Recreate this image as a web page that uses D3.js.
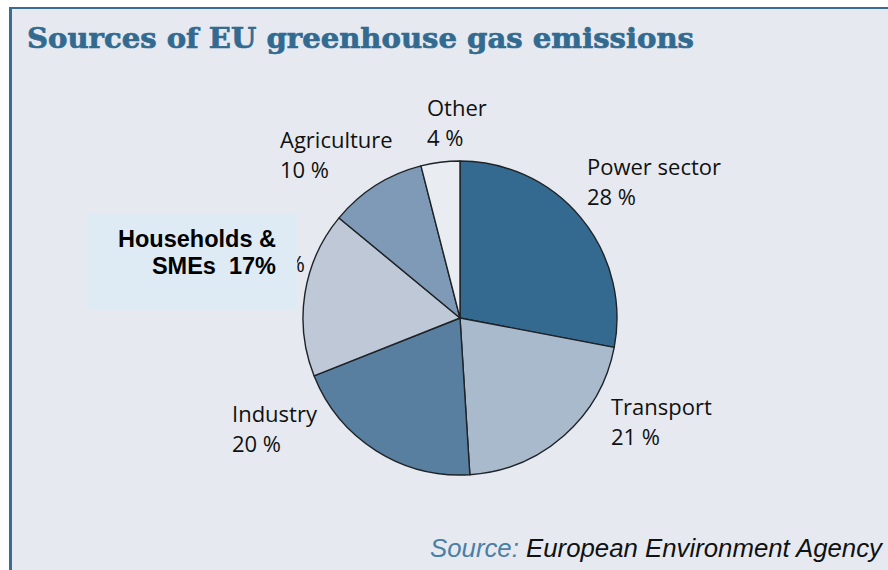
<!DOCTYPE html>
<html>
<head>
<meta charset="utf-8">
<script src="https://cdn.jsdelivr.net/npm/d3@7"></script>
<style>
  html, body { margin: 0; padding: 0; background: #fff; }
  svg { display: block; }
</style>
</head>
<body>
<div id="chart"></div>
<script>
// data
var sectors = ["Power sector", "Transport", "Industry", "Households", "Agriculture", "Other"];
var shares = [28, 21, 20, 17, 10, 4];
var fills = ["#356a90", "#a9bacd", "#587f9f", "#bfc8d7", "#7f9ab6", "#e9ecf1"];

var width = 888, height = 570;

// label placement (left x, first baseline)
var labelAt = {
  "Power sector": [587, 175],
  "Transport": [611, 415],
  "Industry": [232, 422],
  "Agriculture": [280, 148],
  "Other": [427, 116]
};

var svg = d3.select("#chart").append("svg")
    .attr("width", width)
    .attr("height", height);

// panel + border
svg.append("rect")
    .attr("x", 10).attr("y", 7)
    .attr("width", width - 10).attr("height", height - 7)
    .attr("fill", "#e6eaf0");
svg.append("line")
    .attr("x1", 9).attr("x2", width).attr("y1", 8).attr("y2", 8)
    .attr("stroke", "#3b6d93").attr("stroke-width", 2);
svg.append("line")
    .attr("x1", 10.5).attr("x2", 10.5).attr("y1", 7).attr("y2", height)
    .attr("stroke", "#3b6d93").attr("stroke-width", 3);

svg.append("text")
    .attr("x", 27).attr("y", 48)
    .attr("font-family", "DejaVu Serif")
    .attr("font-weight", "bold")
    .attr("font-size", 28)
    .attr("fill", "#336a90")
    .attr("stroke", "#336a90")
    .attr("stroke-width", 0.7)
    .attr("textLength", 667)
    .attr("lengthAdjust", "spacingAndGlyphs")
    .text("Sources of EU greenhouse gas emissions");

// pie
var cx = 460, cy = 318, r = 157;
var pie = d3.pie().sort(null).value(function(d) { return d; });
var arc = d3.arc().innerRadius(0).outerRadius(r);
var color = d3.scaleOrdinal().domain(sectors).range(fills);

var g = svg.append("g").attr("transform", "translate(" + cx + "," + cy + ")");
g.selectAll("path.slice")
    .data(pie(shares))
  .enter().append("path")
    .attr("class", "slice")
    .attr("d", arc)
    .attr("fill", function(d, i) { return color(sectors[i]); })
    .attr("stroke", "#1e2328")
    .attr("stroke-width", 1.4)
    .attr("stroke-linejoin", "round");

// labels
var lab = svg.append("g")
    .attr("font-family", "Open Sans")
    .attr("font-size", 22)
    .attr("fill", "#111");
sectors.forEach(function(s, i) {
  var p = labelAt[s];
  if (!p) return;
  var t = lab.append("text").attr("x", p[0]).attr("y", p[1]);
  t.append("tspan").attr("x", p[0]).text(s);
  t.append("tspan").attr("x", p[0]).attr("dy", 30).text(shares[i] + " %");
});

// original households label, mostly hidden by the pasted box
var hi = sectors.indexOf("Households");
var clip = svg.append("clipPath").attr("id", "peek");
clip.append("rect").attr("x", 297).attr("y", 250).attr("width", 10).attr("height", 30);
lab.append("text")
    .attr("x", 305).attr("y", 272)
    .attr("text-anchor", "end")
    .attr("clip-path", "url(#peek)")
    .text(shares[hi] + " %");

svg.append("rect")
    .attr("x", 88).attr("y", 213)
    .attr("width", 209).attr("height", 97)
    .attr("fill", "#deeaf4");

var ov = svg.append("text")
    .attr("font-family", "Liberation Sans")
    .attr("font-weight", "bold")
    .attr("font-size", 23.5)
    .attr("fill", "#000")
    .attr("text-anchor", "end");
ov.append("tspan").attr("x", 276).attr("y", 247).text("Households &");
ov.append("tspan").attr("x", 276).attr("y", 274).text("SMEs\u00a0\u00a0" + shares[hi] + "%");

// source line
var src = svg.append("text")
    .attr("x", 430).attr("y", 557)
    .attr("font-family", "Liberation Sans")
    .attr("font-style", "italic")
    .attr("font-size", 25)
    .attr("textLength", 452)
    .attr("lengthAdjust", "spacingAndGlyphs");
src.append("tspan").attr("fill", "#4a7fa6").text("Source: ");
src.append("tspan").attr("fill", "#111").text("European Environment Agency");
</script>
</body>
</html>
